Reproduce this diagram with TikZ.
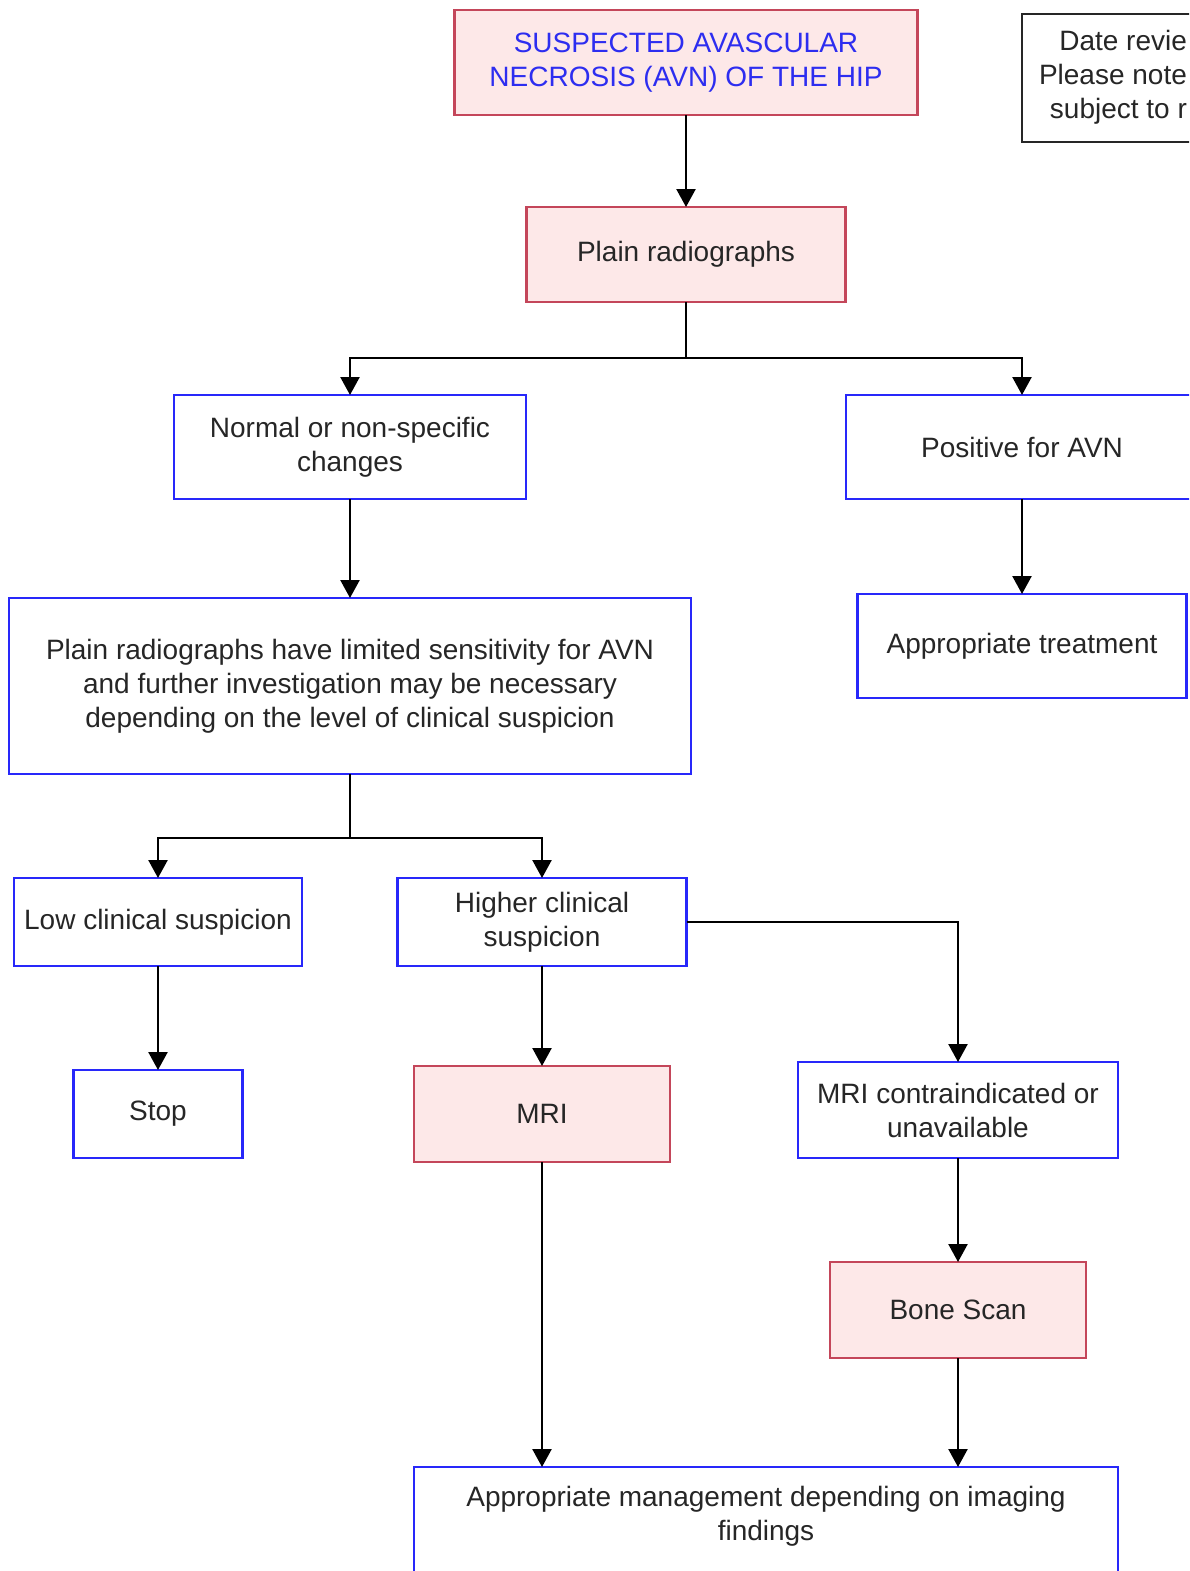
\documentclass[tikz,border=0pt]{standalone}
\usepackage{fontspec}
\setmainfont{Liberation Sans}
\usetikzlibrary{arrows.meta}
\definecolor{pinkf}{RGB}{253,232,232}
\definecolor{redb}{RGB}{196,70,90}
\definecolor{blueb}{RGB}{40,40,250}
\definecolor{titleb}{RGB}{45,45,240}
\tikzset{
  base/.style={draw, line width=2.8pt, align=center, inner sep=0pt, outer sep=0pt,
    font=\fontsize{28}{34}\selectfont, text=black!85},
  pinkbox/.style={base, draw=redb, fill=pinkf},
  bluebox/.style={base, draw=blueb},
  blackbox/.style={base, draw=black!85},
  txt/.style={align=center, inner sep=0pt, font=\fontsize{28}{34}\selectfont, text=black!85},
  arr/.style={line width=2.4pt, -{Triangle[length=18pt,width=19pt]}},
  ln/.style={line width=2.4pt}
}
\begin{document}
\begin{tikzpicture}[x=1pt,y=-1pt]
\useasboundingbox (0,0) rectangle (1189,1571);
\clip (0,0) rectangle (1189,1571);
\fill[white] (0,0) rectangle (1189,1571);

\node[pinkbox, minimum width=463, minimum height=105, text=titleb] (top) at (686,62.5)
  {SUSPECTED AVASCULAR\\NECROSIS (AVN) OF THE HIP};
\node[blackbox, anchor=north west, minimum height=128] (date) at (1022,14)
  {\begin{tabular}{@{\hspace{17pt}}r@{\hspace{80pt}}}Date revie\\Please note\\subject to r\end{tabular}};
\node[pinkbox, minimum width=319, minimum height=95] (plain) at (686,254.5) {Plain radiographs};
\node[bluebox, minimum width=352, minimum height=104] (normal) at (350,447) {Normal or non-specific\\changes};
\node[bluebox, minimum width=352, minimum height=104] (positive) at (1022,447) {Positive for AVN};
\node[bluebox, minimum width=329, minimum height=104] (treat) at (1022,646) {Appropriate treatment};
\node[bluebox, minimum width=682, minimum height=176] (big) at (350,686)
  {Plain radiographs have limited sensitivity for AVN\\and further investigation may be necessary\\depending on the level of clinical suspicion};
\node[bluebox, minimum width=288, minimum height=88] (low) at (158,922) {Low clinical suspicion};
\node[bluebox, minimum width=289, minimum height=88] (high) at (542,922) {Higher clinical\\suspicion};
\node[bluebox, minimum width=169, minimum height=88] (stop) at (158,1114) {Stop};
\node[pinkbox, minimum width=256, minimum height=96] (mri) at (542,1114) {MRI};
\node[bluebox, minimum width=320, minimum height=96] (contra) at (958,1110) {MRI contraindicated or\\unavailable};
\node[pinkbox, minimum width=256, minimum height=96] (bone) at (958,1310) {Bone Scan};
\node[bluebox, anchor=north, minimum width=704, minimum height=160] (final) at (766,1467) {};
\node[txt] (finaltxt) at (766,1516) {Appropriate management depending on imaging\\findings};

\draw[arr] (top) -- (plain);
\draw[ln] (plain.south) -- ++(0,56) coordinate (j1);
\draw[arr] (j1) -| (normal.north);
\draw[arr] (j1) -| (positive.north);
\draw[arr] (normal) -- (big);
\draw[arr] (positive) -- (treat);
\draw[ln] (big.south) -- ++(0,64) coordinate (j2);
\draw[arr] (j2) -| (low.north);
\draw[arr] (j2) -| (high.north);
\draw[arr] (high.east) -| (contra.north);
\draw[arr] (low) -- (stop);
\draw[arr] (high) -- (mri);
\draw[arr] (contra) -- (bone);
\draw[arr] (mri.south) -- (mri.south |- final.north);
\draw[arr] (bone.south) -- (bone.south |- final.north);
\end{tikzpicture}
\end{document}
